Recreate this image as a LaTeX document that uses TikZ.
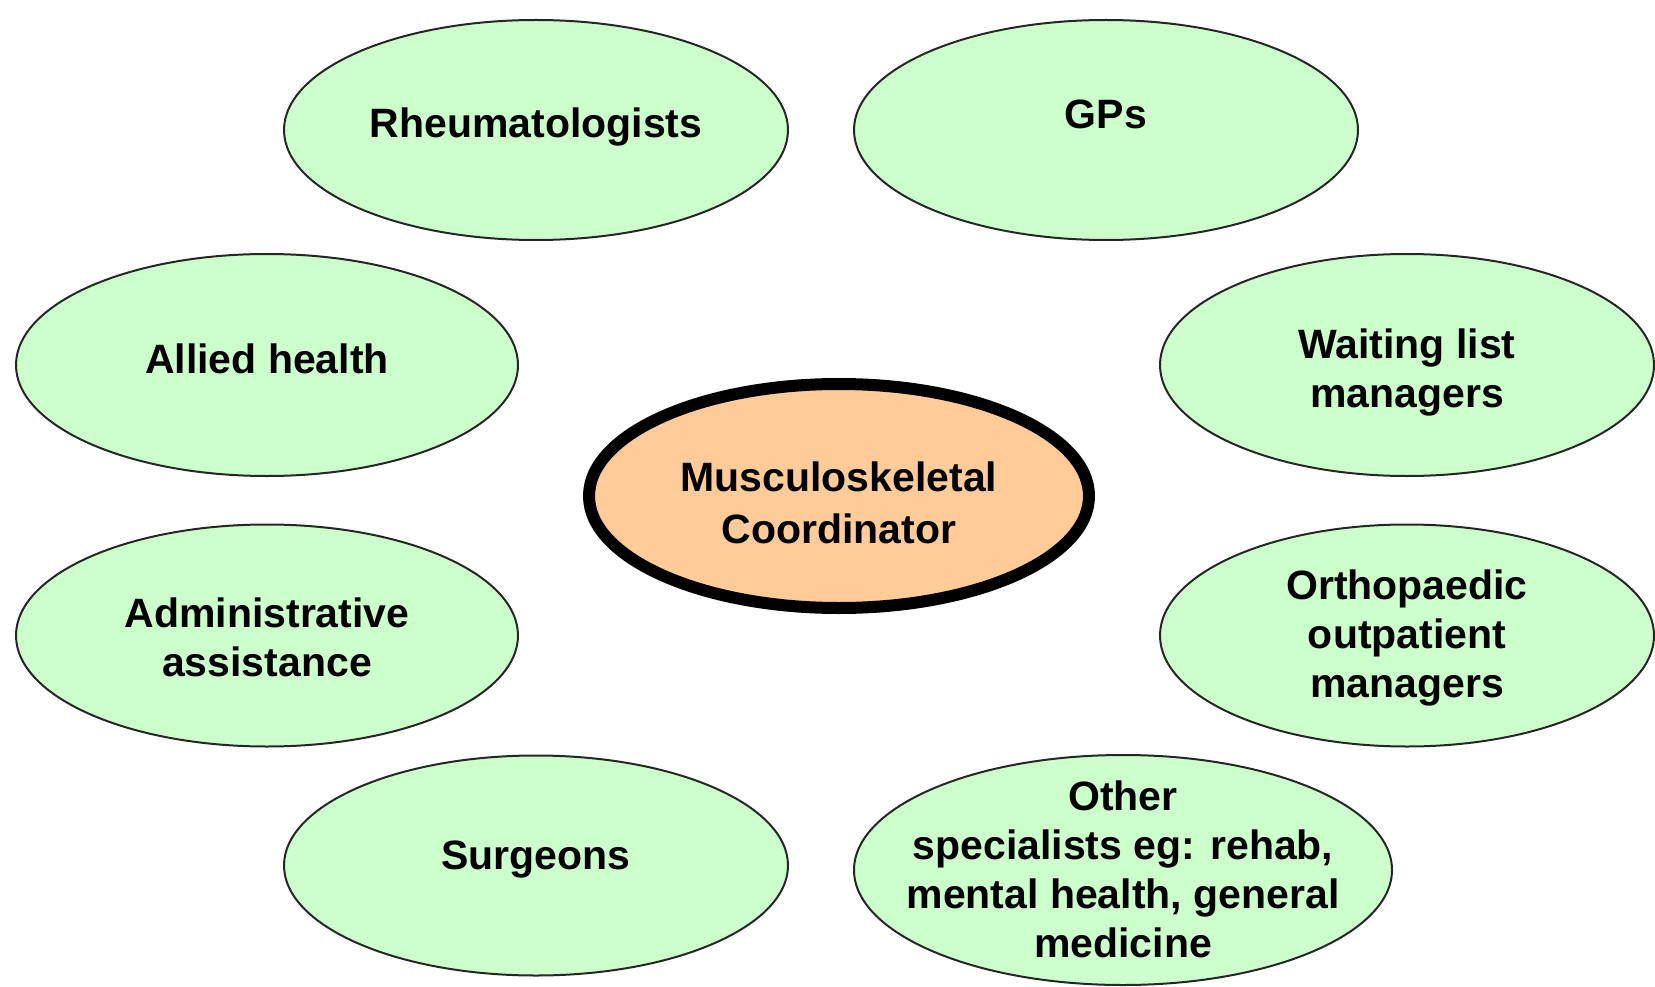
\documentclass[tikz,border=0pt]{standalone}
\usepackage{fontspec}
\setmainfont{Liberation Sans}
\usetikzlibrary{shapes.geometric}
\definecolor{mygreen}{RGB}{204,255,204}
\definecolor{myorange}{RGB}{255,204,153}
\newcommand{\eltext}[2]{\raisebox{#1}[0pt][0pt]{\makebox[0pt]{\parbox[b]{600pt}{\centering #2}}}}
\begin{document}
\begin{tikzpicture}[x=1pt,y=-1pt,
  member/.style={ellipse, draw=black!85, line width=2pt, fill=mygreen, inner sep=0pt,
    font=\fontsize{41}{49}\selectfont\bfseries},
  hub/.style={ellipse, draw=black, line width=12pt, fill=myorange, inner sep=0pt,
    font=\fontsize{41}{52}\selectfont\bfseries}]
\useasboundingbox (0,0) rectangle (1655,987);
\node[member, minimum width=504pt, minimum height=220pt] (rheum) at (536,130) {\eltext{-7.7pt}{Rheumatologists}};
\node[member, minimum width=504pt, minimum height=220pt] (gps) at (1106,130) {\eltext{1.3pt}{GPs}};
\node[member, minimum width=502pt, minimum height=222pt] (allied) at (267,365) {\eltext{-8.7pt}{Allied health}};
\node[member, minimum width=494pt, minimum height=222pt] (waiting) at (1407,365) {\eltext{-42.7pt}{Waiting list\\managers}};
\node[member, minimum width=502pt, minimum height=222pt] (admin) at (267,635.5) {\eltext{-40.7pt}{Administrative\\assistance}};
\node[member, minimum width=494pt, minimum height=222pt] (ortho) at (1407,635.5) {\eltext{-61.7pt}{Orthopaedic\\outpatient\\managers}};
\node[member, minimum width=504pt, minimum height=220pt] (surg) at (536,865.5) {\eltext{-3.7pt}{Surgeons}};
\node[member, minimum width=538pt, minimum height=230pt] (other) at (1123,870) {\eltext{-87.7pt}{Other\\specialists eg: rehab,\\mental health, general\\medicine}};
\node[hub, minimum width=500pt, minimum height=224pt] (coord) at (839,496) {\eltext{-47.7pt}{Musculoskeletal\\Coordinator}};
\end{tikzpicture}
\end{document}
